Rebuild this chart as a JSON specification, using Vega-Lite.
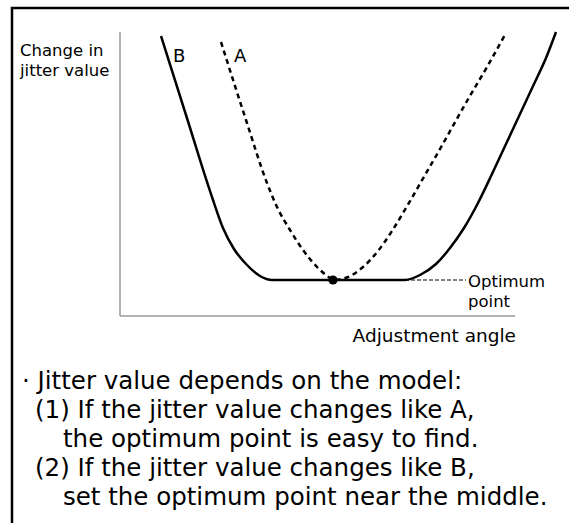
{
  "$schema": "https://vega.github.io/schema/vega-lite/v6.json",
  "width": 569,
  "height": 523,
  "autosize": {"type": "none"},
  "padding": 0,
  "background": "white",
  "config": {"view": {"stroke": null}},
  "datasets": {
    "frame": [{"x": 12, "y": 8, "x2": 600, "y2": 560}],
    "axes": [
      {"x": 120, "y": 32, "x2": 120, "y2": 316},
      {"x": 120, "y": 316, "x2": 515, "y2": 316}
    ],
    "curveB": [
      {"x": 161, "y": 36}, {"x": 186, "y": 115}, {"x": 212, "y": 197}, {"x": 223, "y": 228},
      {"x": 234, "y": 249}, {"x": 247, "y": 265}, {"x": 260, "y": 276}, {"x": 272, "y": 280},
      {"x": 405, "y": 280}, {"x": 420, "y": 275}, {"x": 436, "y": 264}, {"x": 450, "y": 248},
      {"x": 464, "y": 228}, {"x": 478, "y": 203}, {"x": 492, "y": 174}, {"x": 506, "y": 144},
      {"x": 520, "y": 114}, {"x": 534, "y": 84}, {"x": 546, "y": 58}, {"x": 556, "y": 32}
    ],
    "curveA": [
      {"x": 221, "y": 42}, {"x": 246, "y": 120}, {"x": 267, "y": 183}, {"x": 277, "y": 207},
      {"x": 290, "y": 230}, {"x": 303, "y": 250}, {"x": 317, "y": 267}, {"x": 330, "y": 278},
      {"x": 333, "y": 280}, {"x": 348, "y": 277}, {"x": 363, "y": 267}, {"x": 378, "y": 251},
      {"x": 392, "y": 231}, {"x": 406, "y": 208}, {"x": 421, "y": 182}, {"x": 440, "y": 149},
      {"x": 467, "y": 101}, {"x": 487, "y": 67}, {"x": 506, "y": 33}
    ],
    "optimum": [{"x": 333, "y": 280}],
    "leader": [{"x": 405, "y": 280, "x2": 466}],
    "axisLabels": [
      {"x": 20, "y": 56, "text": "Change in\njitter value"}
    ],
    "xLabel": [{"x": 516, "y": 342, "text": "Adjustment angle"}],
    "curveLabels": [
      {"x": 173, "y": 62, "text": "B"},
      {"x": 234, "y": 62, "text": "A"}
    ],
    "optLabels": [
      {"x": 468, "y": 287, "text": "Optimum\npoint"}
    ],
    "notes": [
      {"x": 22, "y": 389, "text": "· Jitter value depends on the model:"},
      {"x": 35, "y": 418, "text": "(1) If the jitter value changes like A,"},
      {"x": 63, "y": 447, "text": "the optimum point is easy to find."},
      {"x": 35, "y": 476, "text": "(2) If the jitter value changes like B,"},
      {"x": 63, "y": 505, "text": "set the optimum point near the middle."}
    ]
  },
  "encoding": {
    "x": {"field": "x", "type": "quantitative", "axis": null, "scale": {"domain": [0, 569], "nice": false, "zero": false}},
    "y": {"field": "y", "type": "quantitative", "axis": null, "scale": {"domain": [0, 523], "nice": false, "zero": false, "reverse": true}}
  },
  "layer": [
    {
      "data": {"name": "frame"},
      "mark": {"type": "rect", "fill": null, "fillOpacity": 0, "stroke": "black", "strokeWidth": 2.5},
      "encoding": {"x2": {"field": "x2"}, "y2": {"field": "y2"}}
    },
    {
      "data": {"name": "axes"},
      "mark": {"type": "rule", "color": "#9a9a9a", "strokeWidth": 1.5},
      "encoding": {"x2": {"field": "x2"}, "y2": {"field": "y2"}}
    },
    {
      "data": {"name": "leader"},
      "mark": {"type": "rule", "color": "black", "strokeWidth": 1, "strokeDash": [4, 2]},
      "encoding": {"x2": {"field": "x2"}}
    },
    {
      "data": {"name": "curveB"},
      "mark": {"type": "line", "color": "black", "strokeWidth": 2.5, "interpolate": "monotone"},
      "encoding": {}
    },
    {
      "data": {"name": "curveA"},
      "mark": {"type": "line", "color": "black", "strokeWidth": 2.5, "strokeDash": [5, 4], "interpolate": "monotone"},
      "encoding": {}
    },
    {
      "data": {"name": "optimum"},
      "mark": {"type": "point", "filled": true, "color": "black", "opacity": 1, "size": 85},
      "encoding": {}
    },
    {
      "data": {"name": "axisLabels"},
      "mark": {"type": "text", "font": "DejaVu Sans", "fontSize": 16.5, "lineBreak": "\n", "lineHeight": 20, "align": "left", "baseline": "alphabetic", "color": "black"},
      "encoding": {"text": {"field": "text"}}
    },
    {
      "data": {"name": "xLabel"},
      "mark": {"type": "text", "font": "DejaVu Sans", "fontSize": 18.5, "align": "right", "baseline": "alphabetic", "color": "black"},
      "encoding": {"text": {"field": "text"}}
    },
    {
      "data": {"name": "curveLabels"},
      "mark": {"type": "text", "font": "DejaVu Sans", "fontSize": 18, "align": "left", "baseline": "alphabetic", "color": "black"},
      "encoding": {"text": {"field": "text"}}
    },
    {
      "data": {"name": "optLabels"},
      "mark": {"type": "text", "font": "DejaVu Sans", "fontSize": 16.5, "lineBreak": "\n", "lineHeight": 20, "align": "left", "baseline": "alphabetic", "color": "black"},
      "encoding": {"text": {"field": "text"}}
    },
    {
      "data": {"name": "notes"},
      "mark": {"type": "text", "font": "DejaVu Sans", "fontSize": 24.5, "align": "left", "baseline": "alphabetic", "color": "black"},
      "encoding": {"text": {"field": "text"}}
    }
  ]
}
